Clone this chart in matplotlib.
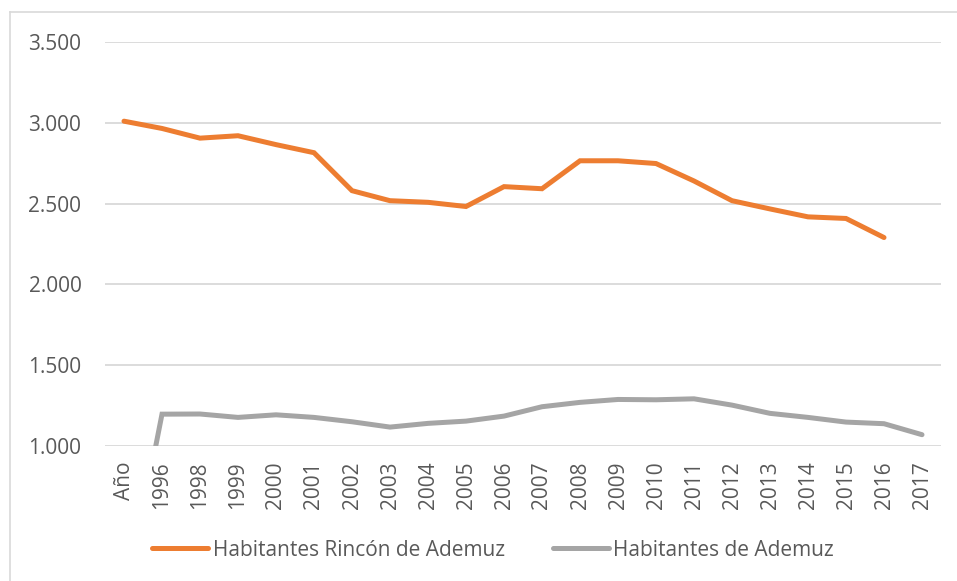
import matplotlib.pyplot as plt
from matplotlib.lines import Line2D
from matplotlib.ticker import FuncFormatter
import numpy as np

# categories along the x axis (first one is the header cell)
categorias = ['Año', '1996', '1998', '1999', '2000', '2001', '2002', '2003',
              '2004', '2005', '2006', '2007', '2008', '2009', '2010', '2011',
              '2012', '2013', '2014', '2015', '2016', '2017']

# Habitantes Rincón de Ademuz (no value for 2017)
rincon = [3010, 2965, 2905, 2920, 2865, 2815, 2580, 2518, 2508, 2482,
          2605, 2592, 2765, 2765, 2748, 2640, 2518, 2467, 2418, 2408,
          2290, np.nan]

# Habitantes de Ademuz (header cell counts as 0)
ademuz = [0, 1197, 1198, 1177, 1193, 1177, 1150, 1117, 1140, 1154,
          1185, 1243, 1270, 1288, 1286, 1292, 1253, 1202, 1177, 1148,
          1138, 1070]

NARANJA = '#ED7D31'
GRIS = '#A5A5A5'
TEXTO = '#595959'
REJILLA = '#D9D9D9'

plt.rcParams['font.family'] = ['Open Sans', 'DejaVu Sans']

W, H = 957, 581
fig = plt.figure(figsize=(W / 100, H / 100), dpi=100)
ax = fig.add_axes([105 / W, 1 - 446 / H, (941 - 105) / W, (446 - 42) / H])

x = np.arange(len(categorias))
ax.plot(x, rincon, color=NARANJA, lw=3.6, solid_capstyle='round',
        solid_joinstyle='miter', label='Habitantes Rincón de Ademuz')
ax.plot(x, ademuz, color=GRIS, lw=3.6, solid_capstyle='round',
        solid_joinstyle='miter', label='Habitantes de Ademuz')

ax.set_xlim(-0.5, len(categorias) - 0.5)
ax.set_ylim(1000, 3500)
ax.set_yticks([1000, 1500, 2000, 2500, 3000, 3500])
ax.yaxis.set_major_formatter(FuncFormatter(lambda v, p: f'{int(v):,}'.replace(',', '.')))
ax.set_xticks(x)
ax.set_xticklabels(categorias, rotation=90)

ax.grid(axis='y', color=REJILLA, lw=1.3)
ax.set_axisbelow(True)
for s in ax.spines.values():
    s.set_visible(False)
ax.tick_params(axis='both', length=0, labelsize=15, labelcolor=TEXTO)
ax.tick_params(axis='y', pad=17)
ax.tick_params(axis='x', pad=11)

# legend below the plot
fig.legend(loc='center', bbox_to_anchor=(493 / W, 1 - 550 / H), ncol=2,
           frameon=False, fontsize=15, labelcolor=TEXTO, handlelength=2.7,
           handletextpad=0.2, columnspacing=2.3)

# chart border (cropped at right and bottom)
fig.add_artist(Line2D([10 / W, 10 / W], [0, 1 - 12 / H], color=REJILLA, lw=1.2))
fig.add_artist(Line2D([10 / W, 1], [1 - 12 / H, 1 - 12 / H], color=REJILLA, lw=1.2))

fig.savefig('out.png', dpi=100)
